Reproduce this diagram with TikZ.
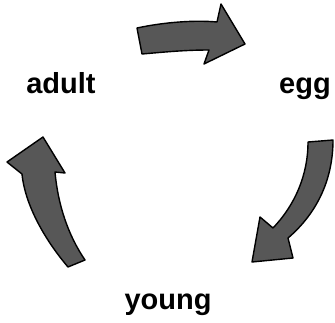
\documentclass[tikz,border=0pt]{standalone}
\usepackage{fontspec}
\setmainfont{Liberation Sans}
\usepackage{tikz}
\usetikzlibrary{positioning}
\tikzset{
  stage/.style={font=\bfseries\fontsize{29}{29}\selectfont, inner sep=0pt, anchor=base},
  blockarrow/.style={draw=black, line width=1.4pt, fill=black!66, line join=round}
}

\begin{document}
\begin{tikzpicture}[x=1pt, y=-1pt]
\useasboundingbox (0,0) rectangle (335,322);
% stage labels
\node[stage] (adult) at (61,93) {adult};
\node[stage] (egg) at (305,93) {egg};
\node[stage] (young) at (168,309) {young};
% adult -> egg
\draw[blockarrow] (137,28) .. controls (165,22) and (195,20) .. (217,22) -- (221,4) -- (245,44)
  -- (204,64) -- (209,50) .. controls (185,50) and (165,52) .. (142,54) -- cycle;
% egg -> young
\draw[blockarrow] (308,142) -- (333,140) .. controls (333,182) and (315,215) .. (288,238)
  -- (293,258) -- (252,262) -- (260,217) -- (273,228) .. controls (295,205) and (308,175) .. (308,142) -- cycle;
% young -> adult
\draw[blockarrow] (7,162) -- (43,137) -- (65,173) -- (55,172) .. controls (58,205) and (68,235) .. (85,260)
  -- (68,267) .. controls (45,240) and (25,205) .. (22,174) -- cycle;
\end{tikzpicture}
\end{document}
